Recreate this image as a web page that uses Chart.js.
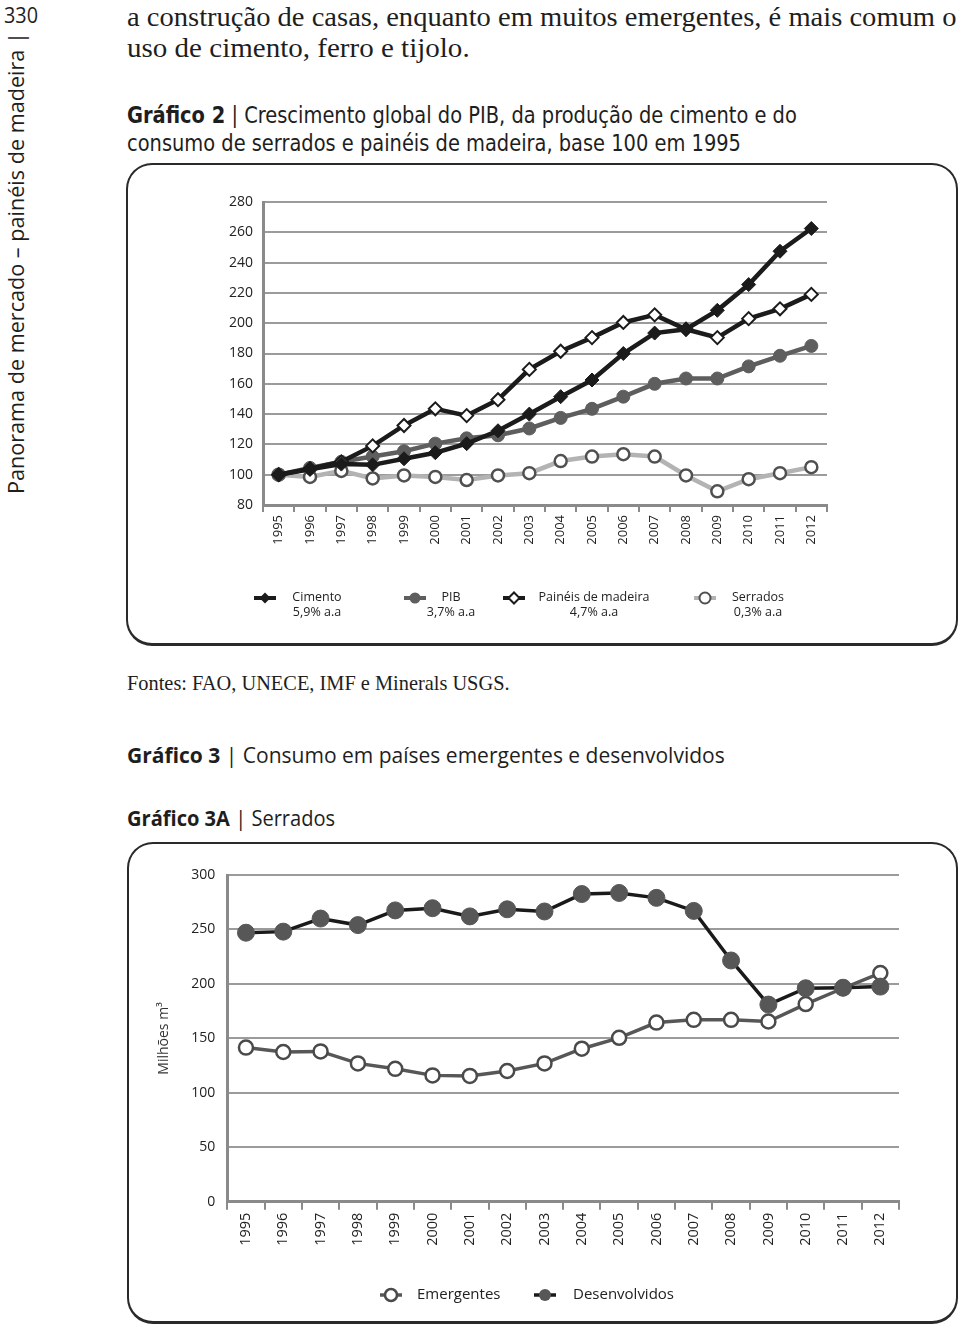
<!DOCTYPE html>
<html>
<head>
<meta charset="utf-8">
<script src="https://cdn.jsdelivr.net/npm/chart.js@4.4.0/dist/chart.umd.min.js"></script>
<style>
  body { margin: 0; background: #fff; width: 960px; height: 1327px; position: relative; overflow: hidden; color: #1e1e1e; }
  .t { position: absolute; white-space: nowrap; transform-origin: 0 0; }
  .serif { font-family: 'Liberation Serif', 'DejaVu Serif', serif; }
  .sans { font-family: 'Open Sans', 'Liberation Sans', sans-serif; }
  .narrow { font-family: 'Liberation Sans Narrow', 'DejaVu Sans Condensed', sans-serif; }
  .box { position: absolute; border: 2px solid #2a2a2a; border-bottom-width: 3px; border-radius: 26px; box-sizing: border-box; }
  .cv { position: absolute; }
</style>
</head>
<body>

<!-- page margin -->
<div class="t sans" style="left:4px; top:4px; font-size:21px; line-height:22px;" data-w="34">330</div>
<div class="t sans" id="side" style="left:5px; top:494px; font-size:21px; line-height:22px;" data-w="462" data-rot="1">Panorama de mercado – painéis de madeira |</div>

<!-- body text -->
<div class="t serif" style="left:127px; top:3px; font-size:27px; line-height:28px;" data-w="830">a construção de casas, enquanto em muitos emergentes, é mais comum o</div>
<div class="t serif" style="left:127px; top:34px; font-size:27px; line-height:28px;" data-w="343">uso de cimento, ferro e tijolo.</div>

<div class="t narrow" style="left:127px; top:103px; font-size:23px; line-height:24px;" data-w="670"><b>Gráfico 2</b> | Crescimento global do PIB, da produção de cimento e do</div>
<div class="t narrow" style="left:127px; top:131px; font-size:23px; line-height:24px;" data-w="614">consumo de serrados e painéis de madeira, base 100 em 1995</div>

<div class="box" style="left:126px; top:163px; width:832px; height:483px;"></div>
<div class="cv" style="left:130px; top:166px; width:825px; height:476px;"><canvas id="chart1"></canvas></div>

<div class="t serif" style="left:127px; top:672px; font-size:21px; line-height:22px;" data-w="383">Fontes: FAO, UNECE, IMF e Minerals USGS.</div>

<div class="t sans" style="left:127px; top:742px; font-size:22px; line-height:24px;" data-w="598"><b>Gráfico 3</b> | Consumo em países emergentes e desenvolvidos</div>
<div class="t sans" style="left:127px; top:805px; font-size:22px; line-height:24px;" data-w="208"><b>Gráfico 3A</b> | Serrados</div>

<div class="box" style="left:127px; top:842px; width:831px; height:482px;"></div>
<div class="cv" style="left:130px; top:845px; width:825px; height:475px;"><canvas id="chart2"></canvas></div>

<script>
// Gráfico 2 data (base 100 em 1995)
const years = ['1995', '1996', '1997', '1998', '1999', '2000', '2001', '2002', '2003',
               '2004', '2005', '2006', '2007', '2008', '2009', '2010', '2011', '2012'];
const cimento  = [100, 103.5, 107, 106.5, 110.5, 114.5, 120.5, 129, 140, 151.5, 162.5, 180, 193.5, 196, 208.5, 225.5, 247.5, 262.5];
const pib      = [100, 104.5, 108.5, 112, 115.5, 120.5, 124, 126, 130.5, 137.5, 143.5, 151.5, 160, 163.5, 163.5, 171.5, 178.5, 185];
const paineis  = [100, 104, 108.5, 119, 132.5, 143.5, 139, 149.5, 169.5, 181.5, 190.5, 200.5, 205.5, 196, 190.5, 203, 209.5, 219];
const serrados = [100, 98.5, 102.5, 97.5, 99.5, 98.5, 96.5, 99.5, 101, 109, 112, 113.5, 112, 99.5, 89, 97, 101, 105];
const names1   = ['Cimento', 'PIB', 'Painéis de madeira', 'Serrados'];
const rates1   = ['5,9% a.a', '3,7% a.a', '4,7% a.a', '0,3% a.a'];

// Gráfico 3A data (milhões m³)
const emergentes    = [141.5, 137.5, 138, 127, 122, 116, 115.5, 120, 127, 140.5, 150.5, 164.5, 167, 167, 165.5, 181.5, 196, 210];
const desenvolvidos = [247, 248, 260, 254, 267.5, 269.5, 262, 268.5, 266.5, 282.5, 283.5, 279, 267, 221.5, 181, 196, 196.5, 197.5];
const names2 = ['Emergentes', 'Desenvolvidos'];
const yAxisTitle2 = 'Milhões m³';

// stretch text blocks to the widths measured on the page
document.querySelectorAll('.t[data-w]').forEach(el => {
  const s = parseFloat(el.dataset.w) / el.offsetWidth;
  el.style.transform = (el.dataset.rot ? 'rotate(-90deg) ' : '') + 'scaleX(' + s + ')';
});

const tickFont = { family: "'Open Sans', sans-serif", size: 14 };
const gridGray = '#9b9b9b';
const axisGray = '#8a8a8a';

function drawMarker(ctx, style, x, y, r, fill, stroke, bw) {
  ctx.beginPath();
  if (style === 'rectRot') {
    ctx.moveTo(x - r, y); ctx.lineTo(x, y - r); ctx.lineTo(x + r, y); ctx.lineTo(x, y + r); ctx.closePath();
  } else {
    ctx.arc(x, y, r, 0, Math.PI * 2);
  }
  ctx.fillStyle = fill; ctx.fill();
  if (bw) { ctx.lineWidth = bw; ctx.strokeStyle = stroke; ctx.stroke(); }
}

// legend drawn under the axis: short line with marker, then text lines
function lineLegend(cfg) {
  return {
    id: 'lineLegend',
    afterDraw(chart) {
      const ctx = chart.ctx;
      ctx.save();
      chart.data.datasets.forEach((ds, i) => {
        const mx = cfg.markerX[i], my = cfg.y;
        ctx.strokeStyle = ds.borderColor; ctx.lineWidth = cfg.lineWidth;
        ctx.beginPath(); ctx.moveTo(mx - cfg.half, my); ctx.lineTo(mx + cfg.half, my); ctx.stroke();
        drawMarker(ctx, ds.pointStyle, mx, my, cfg.r, ds.pointBackgroundColor, ds.pointBorderColor, cfg.bw[i]);
        ctx.fillStyle = '#222'; ctx.font = cfg.font; ctx.textAlign = cfg.align; ctx.textBaseline = 'middle';
        cfg.lines[i].forEach((txt, k) => ctx.fillText(txt, cfg.textX[i], cfg.textY[k]));
      });
      ctx.restore();
    }
  };
}

new Chart(document.getElementById('chart1'), {
  type: 'line',
  data: {
    labels: years,
    datasets: [
      { label: names1[0], data: cimento, borderColor: '#1b1b1b', borderWidth: 4.5, pointStyle: 'rectRot', pointRadius: 7,
        pointBackgroundColor: '#1b1b1b', pointBorderColor: '#1b1b1b', pointBorderWidth: 1, order: 0 },
      { label: names1[1], data: pib, borderColor: '#5e5e5e', borderWidth: 4.5, pointStyle: 'circle', pointRadius: 6.5,
        pointBackgroundColor: '#5e5e5e', pointBorderColor: '#5e5e5e', pointBorderWidth: 1, order: 2 },
      { label: names1[2], data: paineis, borderColor: '#1b1b1b', borderWidth: 4.5, pointStyle: 'rectRot', pointRadius: 6.5,
        pointBackgroundColor: '#ffffff', pointBorderColor: '#1b1b1b', pointBorderWidth: 2, order: 1 },
      { label: names1[3], data: serrados, borderColor: '#b3b3b3', borderWidth: 4.5, pointStyle: 'circle', pointRadius: 6,
        pointBackgroundColor: '#ffffff', pointBorderColor: '#505050', pointBorderWidth: 2.5, order: 3 }
    ]
  },
  options: {
    responsive: true, maintainAspectRatio: false, animation: false,
    layout: { padding: { left: 0, top: 36, right: 128, bottom: 0 } },
    plugins: { legend: { display: false }, tooltip: { enabled: false } },
    scales: {
      x: {
        offset: true,
        grid: { offset: true, drawOnChartArea: false, tickLength: 7, color: axisGray, lineWidth: 2 },
        border: { color: axisGray, width: 3 },
        ticks: { minRotation: 90, maxRotation: 90, autoSkip: false, padding: 3, color: '#222',
                 font: { family: "'Open Sans', sans-serif", size: 13 } },
        afterFit: s => { s.height = 137; }
      },
      y: {
        min: 80, max: 280,
        ticks: { stepSize: 20, padding: 10, color: '#222', font: tickFont },
        grid: { color: gridGray, lineWidth: 2, drawTicks: false },
        border: { color: axisGray, width: 3 },
        afterFit: s => { s.width = 133; }
      }
    }
  },
  plugins: [lineLegend({
    markerX: [135, 285, 384, 575], y: 432, half: 11, r: 5.5, lineWidth: 4, bw: [0, 0, 2, 2],
    textX: [187, 321, 464, 628], textY: [431, 446], align: 'center',
    font: "12.5px 'Open Sans', sans-serif",
    lines: names1.map((n, i) => [n, rates1[i]])
  })]
});

new Chart(document.getElementById('chart2'), {
  type: 'line',
  data: {
    labels: years,
    datasets: [
      { label: names2[0], data: emergentes, borderColor: '#575757', borderWidth: 3.5, pointStyle: 'circle', pointRadius: 7,
        pointBackgroundColor: '#ffffff', pointBorderColor: '#4a4a4a', pointBorderWidth: 2.5, order: 1 },
      { label: names2[1], data: desenvolvidos, borderColor: '#1a1a1a', borderWidth: 3.5, pointStyle: 'circle', pointRadius: 8.5,
        pointBackgroundColor: '#575757', pointBorderColor: '#575757', pointBorderWidth: 1, order: 0 }
    ]
  },
  options: {
    responsive: true, maintainAspectRatio: false, animation: false,
    layout: { padding: { left: 0, top: 30, right: 56, bottom: 0 } },
    plugins: { legend: { display: false }, tooltip: { enabled: false } },
    scales: {
      x: {
        offset: true,
        grid: { offset: true, drawOnChartArea: false, tickLength: 8, color: axisGray, lineWidth: 2 },
        border: { color: axisGray, width: 3 },
        ticks: { minRotation: 90, maxRotation: 90, autoSkip: false, padding: 3, color: '#222',
                 font: { family: "'Open Sans', sans-serif", size: 14.5 } },
        afterFit: s => { s.height = 118.3; }
      },
      y: {
        min: 0, max: 300,
        ticks: { stepSize: 50, padding: 12, color: '#222', font: tickFont },
        grid: { color: gridGray, lineWidth: 2, drawTicks: false },
        border: { color: axisGray, width: 3 },
        title: { display: true, text: yAxisTitle2, color: '#333', padding: { top: 26, bottom: 0 },
                 font: { family: "'Open Sans', sans-serif", size: 14 } },
        afterFit: s => { s.width = 97.3; }
      }
    }
  },
  plugins: [lineLegend({
    markerX: [261, 415], y: 450, half: 11, r: 6, lineWidth: 3.5, bw: [2.5, 0],
    textX: [287, 443], textY: [450], align: 'left',
    font: "15px 'Liberation Sans Narrow', 'Open Sans', sans-serif",
    lines: names2.map(n => [n])
  })]
});
</script>
</body>
</html>
